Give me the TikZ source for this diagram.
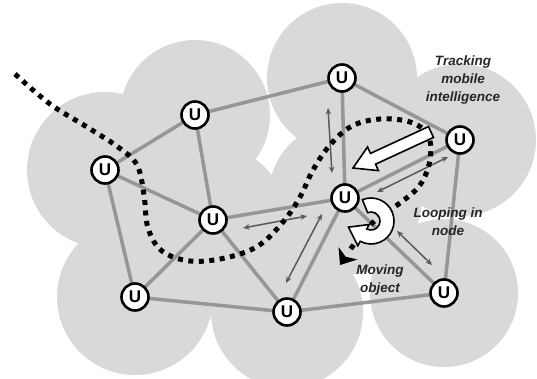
\documentclass[tikz,border=0pt]{standalone}
\usepackage{fontspec}
\setsansfont{Liberation Sans}
\usetikzlibrary{arrows.meta,calc}
\definecolor{cloudc}{RGB}{217,217,217}
\definecolor{edgec}{RGB}{150,150,150}
\definecolor{arrc}{RGB}{90,90,90}
\pgfdeclarelayer{cloudl}
\pgfdeclarelayer{edgel}
\pgfdeclarelayer{midl}
\pgfsetlayers{cloudl,edgel,midl,main}
\begin{document}
\begin{tikzpicture}[x=1pt,y=-1pt,
  unode/.style={circle, draw=black, line width=2.6pt, fill=white, minimum size=27pt, inner sep=0pt, font=\sffamily\bfseries\fontsize{17}{17}\selectfont},
  link/.style={draw=edgec, line width=3.5pt},
  dbl/.style={draw=arrc, line width=1.5pt, {Stealth[length=6.5pt,width=5.5pt]}-{Stealth[length=6.5pt,width=5.5pt]}},
  dotpath/.style={draw=black, line width=5pt, dash pattern=on 5pt off 5.5pt},
  bigarrow/.style={fill=white, draw=black, line width=1.6pt, line join=miter},
  lab/.style={font=\sffamily\bfseries\itshape\fontsize{13.5}{18}\selectfont, align=center, text=black!85}]
\useasboundingbox (0,0) rectangle (537,378);

% nodes
\node[unode] (A) at (195,115) {U};
\node[unode] (B) at (105,170) {U};
\node[unode] (C) at (342,78) {U};
\node[unode] (D) at (460,140) {U};
\node[unode] (E) at (213,220) {U};
\node[unode] (F) at (345,198) {U};
\node[unode] (G) at (135,297) {U};
\node[unode] (H) at (287,312) {U};
\node[unode] (I) at (444,293) {U};

% coverage cloud
\begin{pgfonlayer}{cloudl}
  \begin{scope}
    \clip (0,0) rectangle (537,378);
    \foreach \n/\r in {A/75,B/78,C/75,D/76,E/74,F/77,G/78,H/76,I/74}
      \fill[cloudc] (\n.center) circle[radius=\r];
  \end{scope}
\end{pgfonlayer}

% links
\begin{pgfonlayer}{edgel}
  \foreach \a/\b in {A/B,A/C,A/E,B/E,B/G,C/F,C/D,D/F,D/I,E/F,E/G,E/H,F/H,F/I,G/H,H/I}
    \draw[link] (\a.center) -- (\b.center);
\end{pgfonlayer}

\begin{pgfonlayer}{midl}
  % double arrows
  \coordinate (a1s) at (328,108); \coordinate (a1e) at (332,173);
  \coordinate (a2s) at (243,228); \coordinate (a2e) at (307,216);
  \coordinate (a3s) at (286,283); \coordinate (a3e) at (322,214);
  \coordinate (a4s) at (377,192); \coordinate (a4e) at (448,157);
  \coordinate (a5s) at (397,231); \coordinate (a5e) at (432,265);
  \draw[dbl] (a1s) -- (a1e);
  \draw[dbl] (a2s) -- (a2e);
  \draw[dbl] (a3s) -- (a3e);
  \draw[dbl] (a4s) -- (a4e);
  \draw[dbl] (a5s) -- (a5e);

  % moving object path
  \draw[dotpath] plot[smooth, tension=0.6] coordinates {
    (15,74) (50,104) (87,127) (118,147) (137,165) (144,195) (148,228)
    (162,251) (190,261) (225,258) (258,246) (283,222) (300,197) (313,170)
    (330,145) (352,126) (380,119) (410,122) (428,135) (430,160) (420,185)
    (400,203) (380,216) (362,234) (350,250)};
  \fill[black] (340,265) -- (338.5,247) -- (345.6,256.7) -- (357.5,259.5) -- cycle;

  % tracking arrow
  \draw[bigarrow] (433.5,137.4) -- (375.5,164.2) -- (378.4,170.6) -- (353,168)
    -- (367.5,147) -- (370.5,153.4) -- (428.5,126.6) -- cycle;

  % looping arrow
  \coordinate (lc) at (371,221);
  \draw[bigarrow] ($(lc)+(-112:23)$) arc[start angle=-112, end angle=118, radius=23]
    -- ($(lc)+(118:28)$) -- ($(lc)+(118:16)+(208:17)$) -- ($(lc)+(118:4)$)
    -- ($(lc)+(118:9)$) arc[start angle=118, end angle=-112, radius=9] -- cycle;
\end{pgfonlayer}

% labels
\node[lab] (t1) at (463,80) {Tracking\\mobile\\intelligence};
\node[lab] (t2) at (448,222) {Looping in\\node};
\node[lab] (t3) at (380,280) {Moving\\object};
\end{tikzpicture}
\end{document}
